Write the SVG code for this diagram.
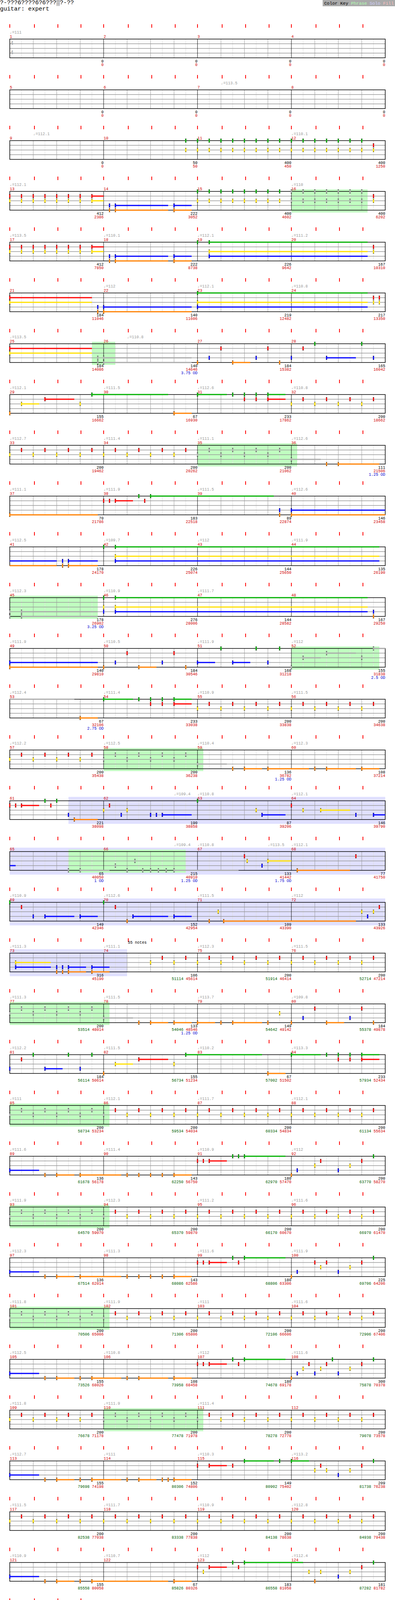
<svg xmlns="http://www.w3.org/2000/svg" xmlns:xlink="http://www.w3.org/1999/xlink" width="1010" height="4275" viewBox="0 0 1010 4275">
<style>
text{font-family:"Liberation Mono","DejaVu Sans Mono",monospace;font-size:10px}
.ti{font-size:15px;fill:#000}
.ts{font-size:14px;fill:#999}
.tp{fill:#999}
.mn{fill:#d00000}
.a{text-anchor:end;fill:#000}
.b{text-anchor:end;fill:#d00000}
.c{fill:#006000}
.od{text-anchor:end;fill:#0000d0}
.ft{font-size:11.4px}
.ph{fill:#c0ffc0}
.so{fill:#e0e0ff}
.sG{stroke:#00b000;stroke-width:3;fill:none}
.sR{stroke:#ff0000;stroke-width:3;fill:none}
.sY{stroke:#ffe000;stroke-width:3;fill:none}
.sB{stroke:#0000ff;stroke-width:3;fill:none}
.sO{stroke:#ff8000;stroke-width:3;fill:none}
.sS{stroke:#aaaaaa;stroke-width:3;fill:none}
</style>
<defs>
<path id="tk" d="M25-38v9M88-38v9M148-38v9M207-38v9M265-38v9M328-38v9M388-38v9M448-38v9M505-38v9M568-38v9M628-38v9M688-38v9M745-38v9M808-38v9M868-38v9M928-38v9" stroke="#ff0000" stroke-width="2"/>
<path id="tk1" d="M25-38v9M88-38v9M148-38v9M207-38v9" stroke="#ff0000" stroke-width="2"/>
<g id="grid" fill="none">
<path d="M55 0V48M115 0V48M175 0V48M235 0V48M295 0V48M355 0V48M415 0V48M475 0V48M535 0V48M595 0V48M655 0V48M715 0V48M775 0V48M835 0V48M895 0V48M955 0V48" stroke="#dddddd"/>
<path d="M85 0V48M145 0V48M205 0V48M325 0V48M385 0V48M445 0V48M565 0V48M625 0V48M685 0V48M805 0V48M865 0V48M925 0V48" stroke="#999999"/>
<path d="M25 12H985M25 24H985M25 36H985" stroke="#999999" stroke-width="1.3"/>
<path d="M265 0V48M505 0V48M745 0V48" stroke="#000"/>
<rect x="25" y="0" width="960" height="48" stroke="#000" stroke-width="1.5"/>
</g>
<g id="grid1" fill="none">
<path d="M55 0V48M115 0V48M175 0V48M235 0V48" stroke="#dddddd"/>
<path d="M85 0V48M145 0V48M205 0V48" stroke="#999999"/>
<path d="M25 12H265M25 24H265M25 36H265" stroke="#999999" stroke-width="1.3"/>
<rect x="25" y="0" width="240" height="48" stroke="#000" stroke-width="1.5"/>
</g>
<g id="G"><rect x="-1.5" y="-5" width="3" height="10" fill="#00b000"/><path d="M-1.5-4.5h3M-1.5 4.5h3" stroke="#000"/></g>
<g id="R"><rect x="-1.5" y="7" width="3" height="10" fill="#ff0000"/><path d="M-1.5 7.5h3M-1.5 16.5h3" stroke="#000"/></g>
<g id="Y"><rect x="-1.5" y="19" width="3" height="10" fill="#ffe000"/><path d="M-1.5 19.5h3M-1.5 28.5h3" stroke="#000"/></g>
<g id="B"><rect x="-1.5" y="31" width="3" height="10" fill="#0000ff"/><path d="M-1.5 31.5h3M-1.5 40.5h3" stroke="#000"/></g>
<g id="O"><rect x="-1.5" y="43" width="3" height="10" fill="#ff8000"/><path d="M-1.5 43.5h3M-1.5 52.5h3" stroke="#000"/></g>
<g id="gG"><rect x="-1.5" y="-5" width="3" height="10" fill="#aaaaaa"/><path d="M-1.5-4.5h3M-1.5 4.5h3" stroke="#000"/></g>
<g id="gR"><rect x="-1.5" y="7" width="3" height="10" fill="#aaaaaa"/><path d="M-1.5 7.5h3M-1.5 16.5h3" stroke="#000"/></g>
<g id="gY"><rect x="-1.5" y="19" width="3" height="10" fill="#aaaaaa"/><path d="M-1.5 19.5h3M-1.5 28.5h3" stroke="#000"/></g>
<g id="gB"><rect x="-1.5" y="31" width="3" height="10" fill="#aaaaaa"/><path d="M-1.5 31.5h3M-1.5 40.5h3" stroke="#000"/></g>
<g id="gO"><rect x="-1.5" y="43" width="3" height="10" fill="#aaaaaa"/><path d="M-1.5 43.5h3M-1.5 52.5h3" stroke="#000"/></g>
<g id="ry"><use href="#Y" x="0"/><use href="#R" x="30"/><use href="#Y" x="60"/><use href="#R" x="90"/><use href="#Y" x="120"/><use href="#R" x="150"/><use href="#Y" x="180"/><use href="#R" x="210"/></g>
<g id="ry1"><use href="#R" x="30"/><use href="#Y" x="60"/><use href="#R" x="90"/><use href="#Y" x="120"/><use href="#R" x="150"/><use href="#Y" x="180"/><use href="#R" x="210"/></g>
<g id="ryS"><use href="#gY" x="0"/><use href="#gR" x="30"/><use href="#gY" x="60"/><use href="#gR" x="90"/><use href="#gY" x="120"/><use href="#gR" x="150"/><use href="#gY" x="180"/><use href="#gR" x="210"/></g>
</defs>
<rect width="1010" height="4275" fill="#fff"/>
<g id="header">
<text class="ti" x="0" y="11">?-???6????6?6???▒?-??</text>
<text class="ti" x="0" y="27">guitar: expert</text>
<rect x="825" y="0" width="185" height="16" fill="#aaaaaa"/>
<text class="ft" x="829" y="12"><tspan fill="#000">Color Key</tspan> <tspan fill="#b0ffb0">Phrase</tspan> <tspan fill="#d0d0ff">Solo</tspan> <tspan fill="#ffc0c0">Fill</tspan></text>
</g>

<g id="row1" transform="translate(0,100)">
<use href="#tk"/><use href="#grid"/>
<text class="ts" x="26" y="15">4</text><text class="ts" x="26" y="39">4</text>
<text class="tp" x="25" y="-14">♩=111</text>
<text class="mn" x="25" y="-3">1</text><text class="mn" x="265" y="-3">2</text><text class="mn" x="505" y="-3">3</text><text class="mn" x="745" y="-3">4</text>
<text class="a" x="265" y="60">0</text><text class="b" x="265" y="69">0</text>
<text class="a" x="505" y="60">0</text><text class="b" x="505" y="69">0</text>
<text class="a" x="745" y="60">0</text><text class="b" x="745" y="69">0</text>
<text class="a" x="985" y="60">0</text><text class="b" x="985" y="69">0</text>
</g>

<g id="row2" transform="translate(0,230)">
<use href="#tk"/><use href="#grid"/>
<text class="tp" x="565" y="-14">♩=113.5</text>
<text class="mn" x="25" y="-3">5</text><text class="mn" x="265" y="-3">6</text><text class="mn" x="505" y="-3">7</text><text class="mn" x="745" y="-3">8</text>
<text class="a" x="265" y="60">0</text><text class="b" x="265" y="69">0</text>
<text class="a" x="505" y="60">0</text><text class="b" x="505" y="69">0</text>
<text class="a" x="745" y="60">0</text><text class="b" x="745" y="69">0</text>
<text class="a" x="985" y="60">0</text><text class="b" x="985" y="69">0</text>
</g>

<g id="row3" transform="translate(0,360)">
<use href="#tk"/><use href="#grid"/>
<text class="tp" x="85" y="-14">♩=112.1</text><text class="tp" x="745" y="-14">♩=110.1</text>
<text class="mn" x="25" y="-3">9</text><text class="mn" x="265" y="-3">10</text><text class="mn" x="505" y="-3">11</text><text class="mn" x="745" y="-3">12</text>
<use href="#G" x="475"/><use href="#G" x="505"/><use href="#G" x="535"/><use href="#G" x="565"/><use href="#G" x="595"/><use href="#G" x="625"/><use href="#G" x="655"/><use href="#G" x="685"/><use href="#G" x="715"/><use href="#G" x="745"/><use href="#G" x="775"/><use href="#G" x="805"/><use href="#G" x="835"/><use href="#G" x="865"/><use href="#G" x="895"/><use href="#G" x="925"/>
<use href="#Y" x="475"/><use href="#Y" x="505"/><use href="#Y" x="535"/><use href="#Y" x="565"/><use href="#Y" x="595"/><use href="#Y" x="625"/><use href="#Y" x="655"/><use href="#Y" x="685"/><use href="#Y" x="715"/><use href="#Y" x="745"/><use href="#Y" x="775"/><use href="#Y" x="805"/><use href="#Y" x="835"/><use href="#Y" x="865"/><use href="#Y" x="895"/><use href="#Y" x="925"/><use href="#Y" x="955"/>
<use href="#R" x="955"/>
<text class="a" x="265" y="60">0</text><text class="b" x="265" y="69">0</text>
<text class="a" x="505" y="60">50</text><text class="b" x="505" y="69">50</text>
<text class="a" x="745" y="60">400</text><text class="b" x="745" y="69">450</text>
<text class="a" x="985" y="60">400</text><text class="b" x="985" y="69">1250</text>
</g>

<g id="row4" transform="translate(0,490)">
<rect class="ph" x="745" y="-5" width="195" height="59"/>
<use href="#tk"/><use href="#grid"/>
<text class="tp" x="25" y="-14">♩=112.1</text><text class="tp" x="745" y="-14">♩=110</text>
<text class="mn" x="25" y="-3">13</text><text class="mn" x="265" y="-3">14</text><text class="mn" x="505" y="-3">15</text><text class="mn" x="745" y="-3">16</text>
<path class="sR" d="M235 12H265"/><path class="sY" d="M235 24H265"/>
<path class="sB" d="M295 36H430M445 36H490"/><path class="sO" d="M295 48H430M445 48H490"/>
<use href="#R" x="25"/><use href="#R" x="55"/><use href="#R" x="85"/><use href="#R" x="115"/><use href="#R" x="145"/><use href="#R" x="175"/><use href="#R" x="205"/><use href="#R" x="235"/><use href="#R" x="955"/>
<use href="#Y" x="25"/><use href="#Y" x="55"/><use href="#Y" x="85"/><use href="#Y" x="115"/><use href="#Y" x="145"/><use href="#Y" x="175"/><use href="#Y" x="205"/><use href="#Y" x="235"/>
<use href="#B" x="280"/><use href="#B" x="295"/><use href="#B" x="445"/><use href="#O" x="280"/><use href="#O" x="295"/><use href="#O" x="445"/>
<use href="#G" x="505"/><use href="#G" x="535"/><use href="#G" x="565"/><use href="#G" x="595"/><use href="#G" x="625"/><use href="#G" x="655"/><use href="#G" x="685"/><use href="#G" x="715"/>
<use href="#Y" x="505"/><use href="#Y" x="535"/><use href="#Y" x="565"/><use href="#Y" x="595"/><use href="#Y" x="625"/><use href="#Y" x="655"/><use href="#Y" x="685"/><use href="#Y" x="715"/><use href="#Y" x="955"/>
<use href="#gG" x="745"/><use href="#gG" x="775"/><use href="#gG" x="805"/><use href="#gG" x="835"/><use href="#gG" x="865"/><use href="#gG" x="895"/><use href="#gG" x="925"/>
<use href="#gY" x="745"/><use href="#gY" x="775"/><use href="#gY" x="805"/><use href="#gY" x="835"/><use href="#gY" x="865"/><use href="#gY" x="895"/><use href="#gY" x="925"/>
<text class="a" x="265" y="60">412</text><text class="b" x="265" y="69">2386</text>
<text class="a" x="505" y="60">222</text><text class="b" x="505" y="69">3052</text>
<text class="a" x="745" y="60">400</text><text class="b" x="745" y="69">4602</text>
<text class="a" x="985" y="60">400</text><text class="b" x="985" y="69">6202</text>
</g>

<g id="row5" transform="translate(0,620)">
<use href="#tk"/><use href="#grid"/>
<text class="tp" x="25" y="-14">♩=113.5</text><text class="tp" x="265" y="-14">♩=110.1</text><text class="tp" x="505" y="-14">♩=112.1</text><text class="tp" x="745" y="-14">♩=111.2</text>
<text class="mn" x="25" y="-3">17</text><text class="mn" x="265" y="-3">18</text><text class="mn" x="505" y="-3">19</text><text class="mn" x="745" y="-3">20</text>
<path class="sR" d="M235 12H265"/><path class="sY" d="M235 24H265M535 24H940"/>
<path class="sB" d="M295 36H430M445 36H490M535 36H940"/><path class="sO" d="M295 48H430M445 48H490"/><path class="sG" d="M535 0H940"/>
<use href="#R" x="25"/><use href="#R" x="55"/><use href="#R" x="85"/><use href="#R" x="115"/><use href="#R" x="145"/><use href="#R" x="175"/><use href="#R" x="205"/><use href="#R" x="235"/><use href="#R" x="955"/>
<use href="#Y" x="25"/><use href="#Y" x="55"/><use href="#Y" x="85"/><use href="#Y" x="115"/><use href="#Y" x="145"/><use href="#Y" x="175"/><use href="#Y" x="205"/><use href="#Y" x="235"/><use href="#Y" x="535"/><use href="#Y" x="955"/>
<use href="#B" x="280"/><use href="#B" x="295"/><use href="#B" x="445"/><use href="#B" x="535"/><use href="#O" x="280"/><use href="#O" x="295"/><use href="#O" x="445"/>
<use href="#G" x="505"/><use href="#G" x="535"/>
<text class="a" x="265" y="60">412</text><text class="b" x="265" y="69">7850</text>
<text class="a" x="505" y="60">222</text><text class="b" x="505" y="69">8738</text>
<text class="a" x="745" y="60">226</text><text class="b" x="745" y="69">9642</text>
<text class="a" x="985" y="60">167</text><text class="b" x="985" y="69">10310</text>
</g>

<g id="row6" transform="translate(0,750)">
<use href="#tk"/><use href="#grid"/>
<text class="tp" x="265" y="-14">♩=112</text><text class="tp" x="505" y="-14">♩=112.1</text><text class="tp" x="745" y="-14">♩=110.8</text>
<text class="mn" x="25" y="-3">21</text><text class="mn" x="265" y="-3">22</text><text class="mn" x="505" y="-3">23</text><text class="mn" x="745" y="-3">24</text>
<path class="sR" d="M25 12H235"/><path class="sY" d="M25 24H235M505 24H940"/>
<path class="sB" d="M265 36H490M505 36H940"/><path class="sO" d="M265 48H490"/><path class="sG" d="M505 0H940"/>
<use href="#R" x="25"/><use href="#R" x="955"/><use href="#R" x="970"/>
<use href="#Y" x="25"/><use href="#Y" x="505"/><use href="#Y" x="955"/><use href="#Y" x="970"/>
<use href="#B" x="250"/><use href="#B" x="265"/><use href="#B" x="505"/><use href="#O" x="250"/><use href="#O" x="265"/>
<use href="#G" x="505"/>
<text class="a" x="265" y="60">184</text><text class="b" x="265" y="69">11046</text>
<text class="a" x="505" y="60">140</text><text class="b" x="505" y="69">11606</text>
<text class="a" x="745" y="60">219</text><text class="b" x="745" y="69">12482</text>
<text class="a" x="985" y="60">217</text><text class="b" x="985" y="69">13350</text>
</g>

<g id="row7" transform="translate(0,880)">
<rect class="ph" x="235" y="-5" width="60" height="59"/>
<use href="#tk"/><use href="#grid"/>
<text class="tp" x="25" y="-14">♩=113.5</text><text class="tp" x="325" y="-14">♩=110.8</text>
<text class="mn" x="25" y="-3">25</text><text class="mn" x="265" y="-3">26</text><text class="mn" x="505" y="-3">27</text><text class="mn" x="745" y="-3">28</text>
<path class="sR" d="M25 12H235"/><path class="sY" d="M25 24H235"/>
<path class="sS" d="M265 36H490M265 48H490"/><path class="sB" d="M835 36H910"/><path class="sO" d="M595 48H640"/>
<use href="#R" x="25"/><use href="#Y" x="25"/>
<use href="#gB" x="250"/><use href="#gB" x="265"/><use href="#gO" x="250"/><use href="#gO" x="265"/>
<use href="#R" x="565"/><use href="#R" x="685"/><use href="#R" x="775"/>
<use href="#G" x="805"/><use href="#G" x="925"/>
<use href="#B" x="535"/><use href="#B" x="655"/><use href="#B" x="745"/><use href="#B" x="835"/><use href="#B" x="955"/>
<use href="#O" x="505"/><use href="#O" x="595"/><use href="#O" x="715"/>
<text class="a" x="265" y="60">184</text><text class="b" x="265" y="69">14086</text>
<text class="a" x="505" y="60">140</text><text class="b" x="505" y="69">14646</text><text class="od" x="505" y="78">3.75 OD</text>
<text class="a" x="745" y="60">184</text><text class="b" x="745" y="69">15382</text>
<text class="a" x="985" y="60">165</text><text class="b" x="985" y="69">16042</text>
</g>

<g id="row8" transform="translate(0,1010)">
<use href="#tk"/><use href="#grid"/>
<text class="tp" x="25" y="-14">♩=112.1</text><text class="tp" x="265" y="-14">♩=111.5</text><text class="tp" x="505" y="-14">♩=112.6</text><text class="tp" x="745" y="-14">♩=110.8</text>
<text class="mn" x="25" y="-3">29</text><text class="mn" x="265" y="-3">30</text><text class="mn" x="505" y="-3">31</text><text class="mn" x="745" y="-3">32</text>
<path class="sG" d="M235 0H430M505 0H580M685 0H730"/><path class="sR" d="M115 12H190M685 12H730"/><path class="sY" d="M55 24H100"/><path class="sO" d="M445 48H490"/>
<use href="#G" x="235"/><use href="#G" x="505"/><use href="#G" x="595"/><use href="#G" x="625"/><use href="#G" x="655"/><use href="#G" x="685"/>
<use href="#R" x="115"/><use href="#R" x="625"/><use href="#R" x="655"/><use href="#R" x="685"/><use href="#R" x="775"/><use href="#R" x="835"/><use href="#R" x="895"/><use href="#R" x="955"/>
<use href="#Y" x="55"/><use href="#Y" x="205"/><use href="#Y" x="745"/><use href="#Y" x="805"/><use href="#Y" x="865"/><use href="#Y" x="925"/>
<use href="#O" x="25"/><use href="#O" x="445"/>
<text class="a" x="265" y="60">155</text><text class="b" x="265" y="69">16662</text>
<text class="a" x="505" y="60">67</text><text class="b" x="505" y="69">16930</text>
<text class="a" x="745" y="60">233</text><text class="b" x="745" y="69">17862</text>
<text class="a" x="985" y="60">200</text><text class="b" x="985" y="69">18662</text>
</g>

<g id="row9" transform="translate(0,1140)">
<rect class="ph" x="505" y="-5" width="255" height="59"/>
<use href="#tk"/><use href="#grid"/>
<text class="tp" x="25" y="-14">♩=112.7</text><text class="tp" x="265" y="-14">♩=111.4</text><text class="tp" x="505" y="-14">♩=111.1</text><text class="tp" x="745" y="-14">♩=112.6</text>
<text class="mn" x="25" y="-3">33</text><text class="mn" x="265" y="-3">34</text><text class="mn" x="505" y="-3">35</text><text class="mn" x="745" y="-3">36</text>
<path class="sS" d="M745 36H820"/><path class="sO" d="M865 48H970"/>
<use href="#ry" x="25"/><use href="#ry" x="265"/><use href="#ryS" x="505"/>
<use href="#gB" x="745"/><use href="#O" x="835"/><use href="#O" x="865"/>
<text class="a" x="265" y="60">200</text><text class="b" x="265" y="69">19462</text>
<text class="a" x="505" y="60">200</text><text class="b" x="505" y="69">20262</text>
<text class="a" x="745" y="60">200</text><text class="b" x="745" y="69">21062</text>
<text class="a" x="985" y="60">111</text><text class="b" x="985" y="69">21506</text><text class="od" x="985" y="78">1.25 OD</text>
</g>

<g id="row10" transform="translate(0,1270)">
<use href="#tk"/><use href="#grid"/>
<text class="tp" x="25" y="-14">♩=111.1</text><text class="tp" x="265" y="-14">♩=111.9</text><text class="tp" x="505" y="-14">♩=111.5</text><text class="tp" x="745" y="-14">♩=112.6</text>
<text class="mn" x="25" y="-3">37</text><text class="mn" x="265" y="-3">38</text><text class="mn" x="505" y="-3">39</text><text class="mn" x="745" y="-3">40</text>
<path class="sO" d="M25 48H250M745 48H985"/><path class="sR" d="M295 12H340"/><path class="sG" d="M385 0H700"/><path class="sB" d="M745 36H985"/>
<use href="#O" x="25"/><use href="#O" x="715"/><use href="#O" x="745"/>
<use href="#R" x="265"/><use href="#R" x="280"/><use href="#R" x="295"/><use href="#R" x="370"/>
<use href="#G" x="355"/><use href="#G" x="385"/>
<use href="#B" x="715"/><use href="#B" x="745"/>
<text class="a" x="265" y="60">70</text><text class="b" x="265" y="69">21786</text>
<text class="a" x="505" y="60">183</text><text class="b" x="505" y="69">22518</text>
<text class="a" x="745" y="60">89</text><text class="b" x="745" y="69">22874</text>
<text class="a" x="985" y="60">146</text><text class="b" x="985" y="69">23458</text>
</g>

<g id="row11" transform="translate(0,1400)">
<use href="#tk"/><use href="#grid"/>
<text class="tp" x="25" y="-14">♩=112.5</text><text class="tp" x="265" y="-14">♩=109.7</text><text class="tp" x="505" y="-14">♩=112</text><text class="tp" x="745" y="-14">♩=111.9</text>
<text class="mn" x="25" y="-3">41</text><text class="mn" x="265" y="-3">42</text><text class="mn" x="505" y="-3">43</text><text class="mn" x="745" y="-3">44</text>
<path class="sB" d="M25 36H145M175 36H250M295 36H970"/><path class="sO" d="M25 48H145M175 48H250"/><path class="sG" d="M295 0H970"/><path class="sY" d="M295 24H970"/>
<use href="#B" x="160"/><use href="#B" x="175"/><use href="#B" x="295"/><use href="#O" x="160"/><use href="#O" x="175"/>
<use href="#G" x="265"/><use href="#G" x="295"/><use href="#Y" x="295"/>
<text class="a" x="265" y="60">178</text><text class="b" x="265" y="69">24170</text>
<text class="a" x="505" y="60">226</text><text class="b" x="505" y="69">25074</text>
<text class="a" x="745" y="60">144</text><text class="b" x="745" y="69">25650</text>
<text class="a" x="985" y="60">135</text><text class="b" x="985" y="69">26190</text>
</g>

<g id="row12" transform="translate(0,1530)">
<rect class="ph" x="25" y="-5" width="225" height="59"/>
<use href="#tk"/><use href="#grid"/>
<text class="tp" x="25" y="-14">♩=112.3</text><text class="tp" x="265" y="-14">♩=110.9</text><text class="tp" x="505" y="-14">♩=111.7</text>
<text class="mn" x="25" y="-3">45</text><text class="mn" x="265" y="-3">46</text><text class="mn" x="505" y="-3">47</text><text class="mn" x="745" y="-3">48</text>
<path class="sS" d="M55 36H250M55 48H250"/><path class="sG" d="M295 0H940"/><path class="sY" d="M295 24H940"/><path class="sB" d="M295 36H940"/>
<use href="#gB" x="25"/><use href="#gB" x="55"/><use href="#gO" x="25"/><use href="#gO" x="55"/>
<use href="#G" x="265"/><use href="#G" x="295"/><use href="#Y" x="265"/><use href="#Y" x="295"/>
<use href="#B" x="265"/><use href="#B" x="295"/><use href="#B" x="955"/><use href="#O" x="955"/>
<text class="a" x="265" y="60">178</text><text class="b" x="265" y="69">26902</text><text class="od" x="265" y="78">3.25 OD</text>
<text class="a" x="505" y="60">276</text><text class="b" x="505" y="69">28006</text>
<text class="a" x="745" y="60">144</text><text class="b" x="745" y="69">28582</text>
<text class="a" x="985" y="60">167</text><text class="b" x="985" y="69">29250</text>
</g>

<g id="row13" transform="translate(0,1660)">
<rect class="ph" x="745" y="-5" width="225" height="59"/>
<use href="#tk"/><use href="#grid"/>
<text class="tp" x="25" y="-14">♩=111.9</text><text class="tp" x="265" y="-14">♩=110.5</text><text class="tp" x="505" y="-14">♩=111.9</text><text class="tp" x="745" y="-14">♩=112</text>
<text class="mn" x="25" y="-3">49</text><text class="mn" x="265" y="-3">50</text><text class="mn" x="505" y="-3">51</text><text class="mn" x="745" y="-3">52</text>
<path class="sB" d="M25 36H250M505 36H550M595 36H640"/><path class="sO" d="M25 48H250M355 48H400"/>
<path class="sS" d="M775 24H820M835 12H910M955 0H985"/>
<use href="#B" x="25"/><use href="#B" x="295"/><use href="#B" x="415"/><use href="#B" x="505"/><use href="#B" x="595"/><use href="#B" x="685"/>
<use href="#O" x="25"/><use href="#O" x="265"/><use href="#O" x="355"/><use href="#O" x="475"/>
<use href="#R" x="325"/><use href="#R" x="445"/>
<use href="#G" x="565"/><use href="#G" x="655"/><use href="#G" x="715"/>
<use href="#gO" x="745"/><use href="#gY" x="775"/><use href="#gY" x="925"/><use href="#gR" x="835"/><use href="#gG" x="955"/>
<text class="a" x="265" y="60">140</text><text class="b" x="265" y="69">29810</text>
<text class="a" x="505" y="60">184</text><text class="b" x="505" y="69">30546</text>
<text class="a" x="745" y="60">168</text><text class="b" x="745" y="69">31218</text>
<text class="a" x="985" y="60">155</text><text class="b" x="985" y="69">31838</text><text class="od" x="985" y="78">2.5 OD</text>
</g>

<g id="row14" transform="translate(0,1790)">
<use href="#tk"/><use href="#grid"/>
<text class="tp" x="25" y="-14">♩=112.4</text><text class="tp" x="265" y="-14">♩=111.4</text><text class="tp" x="505" y="-14">♩=110.9</text><text class="tp" x="745" y="-14">♩=111.5</text>
<text class="mn" x="25" y="-3">53</text><text class="mn" x="265" y="-3">54</text><text class="mn" x="505" y="-3">55</text><text class="mn" x="745" y="-3">56</text>
<path class="sS" d="M25 0H190"/><path class="sO" d="M205 48H250"/><path class="sG" d="M265 0H340M445 0H490"/><path class="sR" d="M445 12H490"/>
<use href="#O" x="205"/>
<use href="#G" x="265"/><use href="#G" x="355"/><use href="#G" x="385"/><use href="#G" x="415"/><use href="#G" x="445"/>
<use href="#R" x="385"/><use href="#R" x="415"/><use href="#R" x="445"/>
<use href="#ry" x="505"/><use href="#ry" x="745"/>
<text class="a" x="265" y="60">67</text><text class="b" x="265" y="69">32106</text><text class="od" x="265" y="78">2.75 OD</text>
<text class="a" x="505" y="60">233</text><text class="b" x="505" y="69">33038</text>
<text class="a" x="745" y="60">200</text><text class="b" x="745" y="69">33838</text>
<text class="a" x="985" y="60">200</text><text class="b" x="985" y="69">34638</text>
</g>

<g id="row15" transform="translate(0,1920)">
<rect class="ph" x="265" y="-5" width="255" height="59"/>
<use href="#tk"/><use href="#grid"/>
<text class="tp" x="25" y="-14">♩=112.2</text><text class="tp" x="265" y="-14">♩=112.5</text><text class="tp" x="505" y="-14">♩=110.4</text><text class="tp" x="745" y="-14">♩=112.3</text>
<text class="mn" x="25" y="-3">57</text><text class="mn" x="265" y="-3">58</text><text class="mn" x="505" y="-3">59</text><text class="mn" x="745" y="-3">60</text>
<path class="sS" d="M505 36H580"/><path class="sO" d="M625 48H670M685 48H790M835 48H910M925 48H970"/>
<use href="#ry" x="25"/><use href="#ryS" x="265"/><use href="#gB" x="505"/>
<use href="#O" x="595"/><use href="#O" x="625"/><use href="#O" x="685"/><use href="#O" x="805"/><use href="#O" x="835"/><use href="#O" x="925"/>
<text class="a" x="265" y="60">200</text><text class="b" x="265" y="69">35438</text>
<text class="a" x="505" y="60">200</text><text class="b" x="505" y="69">36238</text>
<text class="a" x="745" y="60">136</text><text class="b" x="745" y="69">36782</text><text class="od" x="745" y="78">1.25 OD</text>
<text class="a" x="985" y="60">108</text><text class="b" x="985" y="69">37214</text>
</g>

<g id="row16" transform="translate(0,2050)">
<rect class="so" x="175" y="-10" width="810" height="69"/>
<use href="#tk"/><use href="#grid"/>
<text class="tp" x="445" y="-14">♩=109.4</text><text class="tp" x="505" y="-14">♩=110.8</text><text class="tp" x="745" y="-14">♩=112.1</text>
<text class="mn" x="25" y="-3">61</text><text class="mn" x="265" y="-3">62</text><text class="mn" x="505" y="-3">63</text><text class="mn" x="745" y="-3">64</text>
<path class="sR" d="M55 12H100"/><path class="sY" d="M820 24H895"/><path class="sB" d="M415 36H490M670 36H730M955 36H985"/><path class="sO" d="M190 48H250"/>
<use href="#R" x="25"/><use href="#R" x="40"/><use href="#R" x="55"/><use href="#R" x="130"/><use href="#R" x="280"/><use href="#R" x="745"/>
<use href="#G" x="115"/><use href="#G" x="145"/><use href="#G" x="505"/>
<use href="#Y" x="265"/><use href="#Y" x="325"/><use href="#Y" x="655"/><use href="#Y" x="775"/><use href="#Y" x="820"/>
<use href="#B" x="175"/><use href="#B" x="310"/><use href="#B" x="385"/><use href="#B" x="400"/><use href="#B" x="415"/><use href="#B" x="670"/><use href="#B" x="910"/><use href="#B" x="955"/>
<use href="#O" x="190"/>
<text class="a" x="265" y="60">221</text><text class="b" x="265" y="69">38098</text>
<text class="a" x="505" y="60">190</text><text class="b" x="505" y="69">38858</text>
<text class="a" x="745" y="60">87</text><text class="b" x="745" y="69">39206</text>
<text class="a" x="985" y="60">146</text><text class="b" x="985" y="69">39790</text>
</g>

<g id="row17" transform="translate(0,2180)">
<rect class="so" x="25" y="-10" width="960" height="69"/>
<rect class="ph" x="175" y="-5" width="300" height="59"/>
<use href="#tk"/><use href="#grid"/>
<text class="tp" x="445" y="-14">♩=109.4</text><text class="tp" x="505" y="-14">♩=110.8</text><text class="tp" x="685" y="-14">♩=113.5</text><text class="tp" x="745" y="-14">♩=112.1</text>
<text class="mn" x="25" y="-3">65</text><text class="mn" x="265" y="-3">66</text><text class="mn" x="505" y="-3">67</text><text class="mn" x="745" y="-3">68</text>
<path class="sB" d="M25 36H40"/><path class="sS" d="M205 48H280M445 48H610"/><path class="sY" d="M685 24H745"/><path class="sO" d="M760 48H895"/>
<use href="#gO" x="175"/><use href="#gO" x="205"/><use href="#gO" x="325"/><use href="#gO" x="365"/><use href="#gO" x="385"/><use href="#gO" x="405"/><use href="#gO" x="425"/><use href="#gO" x="445"/>
<use href="#gB" x="295"/><use href="#gY" x="345"/>
<use href="#R" x="625"/><use href="#R" x="910"/><use href="#Y" x="632"/><use href="#Y" x="685"/><use href="#B" x="670"/><use href="#O" x="760"/>
<text class="a" x="265" y="60">65</text><text class="b" x="265" y="69">40050</text><text class="od" x="265" y="78">1 OD</text>
<text class="a" x="505" y="60">215</text><text class="b" x="505" y="69">40910</text><text class="od" x="505" y="78">1.25 OD</text>
<text class="a" x="745" y="60">133</text><text class="b" x="745" y="69">41442</text><text class="od" x="745" y="78">1.75 OD</text>
<text class="a" x="985" y="60">77</text><text class="b" x="985" y="69">41750</text>
</g>

<g id="row18" transform="translate(0,2310)">
<rect class="so" x="25" y="-10" width="960" height="69"/>
<use href="#tk"/><use href="#grid"/>
<text class="tp" x="25" y="-14">♩=110.9</text><text class="tp" x="265" y="-14">♩=112.6</text><text class="tp" x="505" y="-14">♩=111.5</text><text class="tp" x="745" y="-14">♩=112</text>
<text class="mn" x="25" y="-3">69</text><text class="mn" x="265" y="-3">70</text><text class="mn" x="505" y="-3">71</text><text class="mn" x="745" y="-3">72</text>
<path class="sB" d="M115 36H190M205 36H250M340 36H430M445 36H490"/><path class="sO" d="M572 48H910"/>
<use href="#G" x="25"/><use href="#G" x="265"/>
<use href="#R" x="55"/><use href="#R" x="295"/><use href="#R" x="970"/>
<use href="#B" x="85"/><use href="#B" x="115"/><use href="#B" x="205"/><use href="#B" x="340"/><use href="#B" x="445"/><use href="#B" x="940"/>
<use href="#O" x="325"/><use href="#O" x="535"/><use href="#O" x="572"/>
<use href="#Y" x="558"/><use href="#Y" x="925"/><use href="#Y" x="955"/>
<text class="a" x="265" y="60">149</text><text class="b" x="265" y="69">42346</text>
<text class="a" x="505" y="60">152</text><text class="b" x="505" y="69">42954</text>
<text class="a" x="745" y="60">109</text><text class="b" x="745" y="69">43390</text>
<text class="a" x="985" y="60">133</text><text class="b" x="985" y="69">43926</text>
</g>

<g id="row19" transform="translate(0,2440)">
<rect class="so" x="25" y="-10" width="300" height="69"/>
<use href="#tk"/><use href="#grid"/>
<text x="327" y="-24">55 notes</text>
<text class="tp" x="25" y="-14">♩=111.3</text><text class="tp" x="265" y="-14">♩=111.1</text><text class="tp" x="505" y="-14">♩=112.3</text><text class="tp" x="745" y="-14">♩=111.5</text>
<text class="mn" x="25" y="-3">73</text><text class="mn" x="265" y="-3">74</text><text class="mn" x="505" y="-3">75</text><text class="mn" x="745" y="-3">76</text>
<path class="sY" d="M40 24H130"/><path class="sB" d="M40 36H130M175 36H220M235 36H280"/><path class="sO" d="M175 48H220M235 48H280"/>
<use href="#Y" x="40"/><use href="#B" x="40"/><use href="#B" x="145"/><use href="#B" x="160"/><use href="#B" x="175"/><use href="#B" x="235"/>
<use href="#O" x="145"/><use href="#O" x="160"/><use href="#O" x="175"/><use href="#O" x="235"/>
<use href="#Y" x="385"/><use href="#R" x="415"/><use href="#Y" x="445"/><use href="#R" x="475"/>
<use href="#ry" x="505"/><use href="#ry" x="745"/>
<text class="a" x="265" y="60">316</text><text class="b" x="265" y="69">45190</text>
<text class="a" x="505" y="60">106</text><text class="b" x="505" y="69"><tspan class="c">51114</tspan> 45614</text>
<text class="a" x="745" y="60">200</text><text class="b" x="745" y="69"><tspan class="c">51914</tspan> 46414</text>
<text class="a" x="985" y="60">200</text><text class="b" x="985" y="69"><tspan class="c">52714</tspan> 47214</text>
</g>

<g id="row20" transform="translate(0,2570)">
<rect class="ph" x="25" y="-5" width="255" height="59"/>
<use href="#tk"/><use href="#grid"/>
<text class="tp" x="25" y="-14">♩=111.3</text><text class="tp" x="265" y="-14">♩=111.5</text><text class="tp" x="505" y="-14">♩=113.7</text><text class="tp" x="745" y="-14">♩=109.8</text>
<text class="mn" x="25" y="-3">77</text><text class="mn" x="265" y="-3">78</text><text class="mn" x="505" y="-3">79</text><text class="mn" x="745" y="-3">80</text>
<path class="sS" d="M265 36H340"/><path class="sO" d="M385 48H430M445 48H490M505 48H550M595 48H670M835 48H880"/>
<use href="#ryS" x="25"/><use href="#gB" x="265"/>
<use href="#O" x="355"/><use href="#O" x="385"/><use href="#O" x="445"/><use href="#O" x="505"/><use href="#O" x="565"/><use href="#O" x="595"/><use href="#O" x="685"/><use href="#O" x="745"/><use href="#O" x="835"/><use href="#O" x="955"/>
<use href="#Y" x="715"/><use href="#R" x="805"/><use href="#R" x="925"/><use href="#B" x="775"/><use href="#B" x="895"/>
<text class="a" x="265" y="60">200</text><text class="b" x="265" y="69"><tspan class="c">53514</tspan> 48014</text>
<text class="a" x="505" y="60">133</text><text class="b" x="505" y="69"><tspan class="c">54046</tspan> 48546</text><text class="od" x="505" y="78">1.25 OD</text>
<text class="a" x="745" y="60">149</text><text class="b" x="745" y="69"><tspan class="c">54642</tspan> 49142</text>
<text class="a" x="985" y="60">184</text><text class="b" x="985" y="69"><tspan class="c">55378</tspan> 49878</text>
</g>

<g id="row21" transform="translate(0,2700)">
<use href="#tk"/><use href="#grid"/>
<text class="tp" x="25" y="-14">♩=112.2</text><text class="tp" x="265" y="-14">♩=111.5</text><text class="tp" x="505" y="-14">♩=110.2</text><text class="tp" x="745" y="-14">♩=113.3</text>
<text class="mn" x="25" y="-3">81</text><text class="mn" x="265" y="-3">82</text><text class="mn" x="505" y="-3">83</text><text class="mn" x="745" y="-3">84</text>
<path class="sG" d="M475 0H670M745 0H820M925 0H970"/><path class="sR" d="M355 12H430M925 12H970"/><path class="sY" d="M295 24H340"/><path class="sB" d="M115 36H160"/><path class="sO" d="M685 48H730"/>
<use href="#G" x="85"/><use href="#G" x="175"/><use href="#G" x="235"/><use href="#G" x="475"/><use href="#G" x="745"/><use href="#G" x="835"/><use href="#G" x="865"/><use href="#G" x="895"/><use href="#G" x="925"/>
<use href="#R" x="55"/><use href="#R" x="355"/><use href="#R" x="865"/><use href="#R" x="895"/><use href="#R" x="925"/>
<use href="#Y" x="295"/><use href="#Y" x="445"/>
<use href="#B" x="25"/><use href="#B" x="115"/><use href="#B" x="205"/>
<use href="#O" x="265"/><use href="#O" x="685"/>
<text class="a" x="265" y="60">184</text><text class="b" x="265" y="69"><tspan class="c">56114</tspan> 50614</text>
<text class="a" x="505" y="60">155</text><text class="b" x="505" y="69"><tspan class="c">56734</tspan> 51234</text>
<text class="a" x="745" y="60">67</text><text class="b" x="745" y="69"><tspan class="c">57002</tspan> 51502</text>
<text class="a" x="985" y="60">233</text><text class="b" x="985" y="69"><tspan class="c">57934</tspan> 52434</text>
</g>

<g id="row22" transform="translate(0,2830)">
<rect class="ph" x="25" y="-5" width="255" height="59"/>
<use href="#tk"/><use href="#grid"/>
<text class="tp" x="25" y="-14">♩=111</text><text class="tp" x="265" y="-14">♩=112.1</text><text class="tp" x="505" y="-14">♩=111.7</text><text class="tp" x="745" y="-14">♩=112.1</text>
<text class="mn" x="25" y="-3">85</text><text class="mn" x="265" y="-3">86</text><text class="mn" x="505" y="-3">87</text><text class="mn" x="745" y="-3">88</text>
<use href="#ryS" x="25"/><use href="#gY" x="265"/><use href="#ry1" x="265"/><use href="#ry" x="505"/><use href="#ry" x="745"/>
<text class="a" x="265" y="60">200</text><text class="b" x="265" y="69"><tspan class="c">58734</tspan> 53234</text>
<text class="a" x="505" y="60">200</text><text class="b" x="505" y="69"><tspan class="c">59534</tspan> 54034</text>
<text class="a" x="745" y="60">200</text><text class="b" x="745" y="69"><tspan class="c">60334</tspan> 54834</text>
<text class="a" x="985" y="60">200</text><text class="b" x="985" y="69"><tspan class="c">61134</tspan> 55634</text>
</g>

<g id="row23" transform="translate(0,2960)">
<use href="#tk"/><use href="#grid"/>
<text class="tp" x="25" y="-14">♩=111.6</text><text class="tp" x="265" y="-14">♩=111.4</text><text class="tp" x="505" y="-14">♩=110.9</text><text class="tp" x="745" y="-14">♩=112</text>
<text class="mn" x="25" y="-3">89</text><text class="mn" x="265" y="-3">90</text><text class="mn" x="505" y="-3">91</text><text class="mn" x="745" y="-3">92</text>
<path class="sB" d="M25 36H100"/><path class="sO" d="M145 48H190M205 48H310M445 48H490"/><path class="sR" d="M535 12H580"/><path class="sG" d="M625 0H730"/>
<use href="#B" x="25"/><use href="#B" x="760"/><use href="#B" x="865"/>
<use href="#O" x="115"/><use href="#O" x="145"/><use href="#O" x="205"/><use href="#O" x="325"/><use href="#O" x="355"/><use href="#O" x="385"/><use href="#O" x="415"/><use href="#O" x="445"/><use href="#O" x="745"/>
<use href="#R" x="505"/><use href="#R" x="520"/><use href="#R" x="535"/><use href="#R" x="820"/><use href="#R" x="925"/>
<use href="#G" x="595"/><use href="#G" x="610"/><use href="#G" x="625"/><use href="#G" x="955"/>
<use href="#Y" x="805"/><use href="#Y" x="895"/>
<text class="a" x="265" y="60">136</text><text class="b" x="265" y="69"><tspan class="c">61678</tspan> 56178</text>
<text class="a" x="505" y="60">143</text><text class="b" x="505" y="69"><tspan class="c">62250</tspan> 56750</text>
<text class="a" x="745" y="60">180</text><text class="b" x="745" y="69"><tspan class="c">62970</tspan> 57470</text>
<text class="a" x="985" y="60">200</text><text class="b" x="985" y="69"><tspan class="c">63770</tspan> 58270</text>
</g>

<g id="row24" transform="translate(0,3090)">
<rect class="ph" x="25" y="-5" width="255" height="59"/>
<use href="#tk"/><use href="#grid"/>
<text class="tp" x="25" y="-14">♩=111.9</text><text class="tp" x="265" y="-14">♩=112.3</text><text class="tp" x="505" y="-14">♩=111.2</text><text class="tp" x="745" y="-14">♩=111.6</text>
<text class="mn" x="25" y="-3">93</text><text class="mn" x="265" y="-3">94</text><text class="mn" x="505" y="-3">95</text><text class="mn" x="745" y="-3">96</text>
<use href="#ryS" x="25"/><use href="#gY" x="265"/><use href="#ry1" x="265"/><use href="#ry" x="505"/><use href="#ry" x="745"/>
<text class="a" x="265" y="60">200</text><text class="b" x="265" y="69"><tspan class="c">64570</tspan> 59070</text>
<text class="a" x="505" y="60">200</text><text class="b" x="505" y="69"><tspan class="c">65370</tspan> 59870</text>
<text class="a" x="745" y="60">200</text><text class="b" x="745" y="69"><tspan class="c">66170</tspan> 60670</text>
<text class="a" x="985" y="60">200</text><text class="b" x="985" y="69"><tspan class="c">66970</tspan> 61470</text>
</g>

<g id="row25" transform="translate(0,3220)">
<use href="#tk"/><use href="#grid"/>
<text class="tp" x="25" y="-14">♩=112.3</text><text class="tp" x="265" y="-14">♩=111.3</text><text class="tp" x="505" y="-14">♩=111.6</text><text class="tp" x="745" y="-14">♩=111.9</text>
<text class="mn" x="25" y="-3">97</text><text class="mn" x="265" y="-3">98</text><text class="mn" x="505" y="-3">99</text><text class="mn" x="745" y="-3">100</text>
<path class="sB" d="M25 36H100"/><path class="sO" d="M145 48H190M205 48H310M445 48H490"/><path class="sR" d="M535 12H580"/><path class="sG" d="M625 0H730"/>
<use href="#B" x="25"/><use href="#B" x="760"/><use href="#B" x="865"/>
<use href="#O" x="115"/><use href="#O" x="145"/><use href="#O" x="205"/><use href="#O" x="325"/><use href="#O" x="355"/><use href="#O" x="385"/><use href="#O" x="415"/><use href="#O" x="445"/><use href="#O" x="745"/>
<use href="#R" x="505"/><use href="#R" x="520"/><use href="#R" x="535"/><use href="#R" x="610"/><use href="#R" x="805"/><use href="#R" x="835"/><use href="#R" x="925"/>
<use href="#G" x="595"/><use href="#G" x="625"/><use href="#G" x="955"/>
<use href="#Y" x="820"/><use href="#Y" x="895"/>
<text class="a" x="265" y="60">136</text><text class="b" x="265" y="69"><tspan class="c">67514</tspan> 62014</text>
<text class="a" x="505" y="60">143</text><text class="b" x="505" y="69"><tspan class="c">68086</tspan> 62586</text>
<text class="a" x="745" y="60">180</text><text class="b" x="745" y="69"><tspan class="c">68806</tspan> 63306</text>
<text class="a" x="985" y="60">225</text><text class="b" x="985" y="69"><tspan class="c">69706</tspan> 64206</text>
</g>

<g id="row26" transform="translate(0,3350)">
<rect class="ph" x="25" y="-5" width="255" height="59"/>
<use href="#tk"/><use href="#grid"/>
<text class="tp" x="25" y="-14">♩=111.8</text><text class="tp" x="265" y="-14">♩=111.9</text><text class="tp" x="505" y="-14">♩=111</text><text class="tp" x="745" y="-14">♩=111.6</text>
<text class="mn" x="25" y="-3">101</text><text class="mn" x="265" y="-3">102</text><text class="mn" x="505" y="-3">103</text><text class="mn" x="745" y="-3">104</text>
<use href="#ryS" x="25"/><use href="#gY" x="265"/><use href="#ry1" x="265"/><use href="#ry" x="505"/><use href="#ry" x="745"/>
<text class="a" x="265" y="60">200</text><text class="b" x="265" y="69"><tspan class="c">70506</tspan> 65006</text>
<text class="a" x="505" y="60">200</text><text class="b" x="505" y="69"><tspan class="c">71306</tspan> 65806</text>
<text class="a" x="745" y="60">200</text><text class="b" x="745" y="69"><tspan class="c">72106</tspan> 66606</text>
<text class="a" x="985" y="60">200</text><text class="b" x="985" y="69"><tspan class="c">72906</tspan> 67406</text>
</g>

<g id="row27" transform="translate(0,3480)">
<use href="#tk"/><use href="#grid"/>
<text class="tp" x="25" y="-14">♩=112.5</text><text class="tp" x="265" y="-14">♩=110.8</text><text class="tp" x="505" y="-14">♩=112</text><text class="tp" x="745" y="-14">♩=111.6</text>
<text class="mn" x="25" y="-3">105</text><text class="mn" x="265" y="-3">106</text><text class="mn" x="505" y="-3">107</text><text class="mn" x="745" y="-3">108</text>
<path class="sB" d="M25 36H100"/><path class="sO" d="M145 48H190M235 48H310M355 48H430M445 48H490"/><path class="sR" d="M535 12H580"/><path class="sG" d="M625 0H730"/>
<use href="#B" x="25"/><use href="#B" x="760"/><use href="#B" x="805"/><use href="#B" x="865"/>
<use href="#O" x="115"/><use href="#O" x="145"/><use href="#O" x="205"/><use href="#O" x="235"/><use href="#O" x="325"/><use href="#O" x="355"/><use href="#O" x="445"/><use href="#O" x="745"/>
<use href="#R" x="505"/><use href="#R" x="520"/><use href="#R" x="535"/><use href="#R" x="610"/><use href="#R" x="790"/><use href="#R" x="835"/><use href="#R" x="925"/>
<use href="#G" x="595"/><use href="#G" x="625"/><use href="#G" x="850"/><use href="#G" x="955"/>
<use href="#Y" x="775"/><use href="#Y" x="820"/><use href="#Y" x="895"/>
<text class="a" x="265" y="60">155</text><text class="b" x="265" y="69"><tspan class="c">73526</tspan> 68026</text>
<text class="a" x="505" y="60">108</text><text class="b" x="505" y="69"><tspan class="c">73958</tspan> 68458</text>
<text class="a" x="745" y="60">180</text><text class="b" x="745" y="69"><tspan class="c">74678</tspan> 69178</text>
<text class="a" x="985" y="60">300</text><text class="b" x="985" y="69"><tspan class="c">75878</tspan> 70378</text>
</g>

<g id="row28" transform="translate(0,3610)">
<rect class="ph" x="265" y="-5" width="255" height="59"/>
<use href="#tk"/><use href="#grid"/>
<text class="tp" x="25" y="-14">♩=111.8</text><text class="tp" x="265" y="-14">♩=111.9</text><text class="tp" x="505" y="-14">♩=111.4</text>
<text class="mn" x="25" y="-3">109</text><text class="mn" x="265" y="-3">110</text><text class="mn" x="505" y="-3">111</text><text class="mn" x="745" y="-3">112</text>
<use href="#ry" x="25"/><use href="#ryS" x="265"/><use href="#gY" x="505"/><use href="#ry1" x="505"/><use href="#ry" x="745"/>
<text class="a" x="265" y="60">200</text><text class="b" x="265" y="69"><tspan class="c">76678</tspan> 71178</text>
<text class="a" x="505" y="60">200</text><text class="b" x="505" y="69"><tspan class="c">77478</tspan> 71978</text>
<text class="a" x="745" y="60">200</text><text class="b" x="745" y="69"><tspan class="c">78278</tspan> 72778</text>
<text class="a" x="985" y="60">200</text><text class="b" x="985" y="69"><tspan class="c">79078</tspan> 73578</text>
</g>

<g id="row29" transform="translate(0,3740)">
<use href="#tk"/><use href="#grid"/>
<text class="tp" x="25" y="-14">♩=112.7</text><text class="tp" x="265" y="-14">♩=111</text><text class="tp" x="505" y="-14">♩=110.3</text><text class="tp" x="745" y="-14">♩=113.2</text>
<text class="mn" x="25" y="-3">113</text><text class="mn" x="265" y="-3">114</text><text class="mn" x="505" y="-3">115</text><text class="mn" x="745" y="-3">116</text>
<path class="sB" d="M25 36H100"/><path class="sO" d="M145 48H190M235 48H310M355 48H400M445 48H490"/><path class="sR" d="M535 12H580"/><path class="sG" d="M625 0H700M745 0H790"/>
<use href="#B" x="25"/><use href="#B" x="865"/>
<use href="#O" x="115"/><use href="#O" x="145"/><use href="#O" x="205"/><use href="#O" x="235"/><use href="#O" x="325"/><use href="#O" x="355"/><use href="#O" x="415"/><use href="#O" x="430"/><use href="#O" x="445"/>
<use href="#R" x="505"/><use href="#R" x="535"/><use href="#R" x="595"/><use href="#R" x="820"/><use href="#R" x="925"/>
<use href="#G" x="625"/><use href="#G" x="715"/><use href="#G" x="745"/><use href="#G" x="955"/>
<use href="#Y" x="805"/><use href="#Y" x="835"/><use href="#Y" x="895"/>
<text class="a" x="265" y="60">155</text><text class="b" x="265" y="69"><tspan class="c">79698</tspan> 74198</text>
<text class="a" x="505" y="60">152</text><text class="b" x="505" y="69"><tspan class="c">80306</tspan> 74806</text>
<text class="a" x="745" y="60">149</text><text class="b" x="745" y="69"><tspan class="c">80902</tspan> 75402</text>
<text class="a" x="985" y="60">209</text><text class="b" x="985" y="69"><tspan class="c">81738</tspan> 76238</text>
</g>

<g id="row30" transform="translate(0,3870)">
<use href="#tk"/><use href="#grid"/>
<text class="tp" x="25" y="-14">♩=111.5</text><text class="tp" x="265" y="-14">♩=111.7</text><text class="tp" x="505" y="-14">♩=110.9</text><text class="tp" x="745" y="-14">♩=112.8</text>
<text class="mn" x="25" y="-3">117</text><text class="mn" x="265" y="-3">118</text><text class="mn" x="505" y="-3">119</text><text class="mn" x="745" y="-3">120</text>
<use href="#ry" x="25"/><use href="#ry" x="265"/><use href="#ry" x="505"/><use href="#ry" x="745"/>
<text class="a" x="265" y="60">200</text><text class="b" x="265" y="69"><tspan class="c">82538</tspan> 77038</text>
<text class="a" x="505" y="60">200</text><text class="b" x="505" y="69"><tspan class="c">83338</tspan> 77838</text>
<text class="a" x="745" y="60">200</text><text class="b" x="745" y="69"><tspan class="c">84138</tspan> 78638</text>
<text class="a" x="985" y="60">200</text><text class="b" x="985" y="69"><tspan class="c">84938</tspan> 79438</text>
</g>

<g id="row31" transform="translate(0,4000)">
<use href="#tk"/><use href="#grid"/>
<text class="tp" x="25" y="-14">♩=110.9</text><text class="tp" x="265" y="-14">♩=110.7</text><text class="tp" x="505" y="-14">♩=112</text><text class="tp" x="745" y="-14">♩=112.4</text>
<text class="mn" x="25" y="-3">121</text><text class="mn" x="265" y="-3">122</text><text class="mn" x="505" y="-3">123</text><text class="mn" x="745" y="-3">124</text>
<path class="sB" d="M25 36H100"/><path class="sO" d="M145 48H190M235 48H430M445 48H490"/><path class="sR" d="M535 12H580"/><path class="sG" d="M625 0H775"/>
<use href="#B" x="25"/><use href="#B" x="865"/>
<use href="#O" x="115"/><use href="#O" x="145"/><use href="#O" x="205"/><use href="#O" x="235"/><use href="#O" x="445"/><use href="#O" x="805"/>
<use href="#R" x="505"/><use href="#R" x="535"/><use href="#R" x="610"/><use href="#R" x="925"/>
<use href="#Y" x="520"/><use href="#Y" x="790"/><use href="#Y" x="820"/><use href="#Y" x="895"/>
<use href="#G" x="595"/><use href="#G" x="625"/><use href="#G" x="955"/>
<text class="a" x="265" y="60">155</text><text class="b" x="265" y="69"><tspan class="c">85558</tspan> 80058</text>
<text class="a" x="505" y="60">67</text><text class="b" x="505" y="69"><tspan class="c">85826</tspan> 80326</text>
<text class="a" x="745" y="60">183</text><text class="b" x="745" y="69"><tspan class="c">86558</tspan> 81058</text>
<text class="a" x="985" y="60">181</text><text class="b" x="985" y="69"><tspan class="c">87282</tspan> 81782</text>
</g>

<g id="row32" transform="translate(0,4130)">
<use href="#tk1"/><use href="#grid1"/>
<text class="mn" x="25" y="-3">125</text>
<path class="sR" d="M25 12H115"/>
<use href="#R" x="25"/>
<text class="a" x="265" y="60">43</text><text class="b" x="265" y="69"><tspan class="c">87454</tspan> 81954</text>
</g>

<g id="footer">
<text class="ft" x="0" y="4257" fill="#888888">http://charts.ajanata.com/rb/</text>
<text class="ft" x="0" y="4270" fill="#ff0000">WARNING: Work in progress. This information has NOT BEEN VERIFIED and MAY BE INCORRECT.</text>
<text class="ft" x="689" y="4257" fill="#888888">Generated at Fri, 26 Aug 2011 09:29:49 -0400.</text>
<text class="ft" x="689" y="4270" fill="#888888">Generated by ajanata's Chart Generator, r299.</text>
</g>
</svg>
